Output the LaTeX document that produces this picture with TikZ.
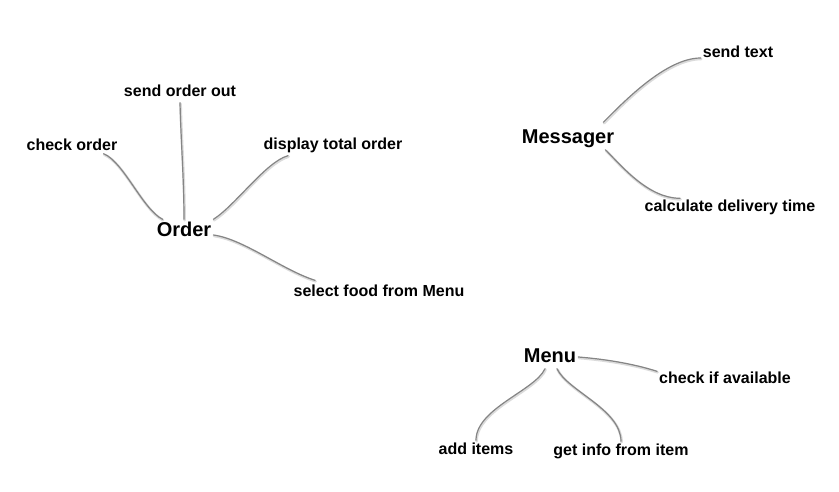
\documentclass[tikz,border=0pt]{standalone}
\usepackage{fontspec}
\setmainfont{Liberation Sans}
\usepackage{tikz}

\begin{document}
\begin{tikzpicture}[x  = {(1pt,0pt)},
                    y  = {(0pt,-1pt)},
                    scale = 1]

  \useasboundingbox (0,0) rectangle (839,492);

  % STYLES
  \definecolor{linkcolor_map}{rgb}{ 0.52,0.52,0.52 }
  \definecolor{shadowcolor_map}{rgb}{ 0.86,0.86,0.86 }
  \tikzstyle{centerstyle_map} = [font=\fontsize{20}{24}\selectfont\bfseries, inner sep=2pt, text height=15pt, text depth=4pt]
  \tikzstyle{labelstyle_map} = [font=\fontsize{16}{19}\selectfont\bfseries, inner sep=2pt, text height=11.5pt, text depth=3.5pt]
  \tikzstyle{linkstyle_map} = [draw=linkcolor_map, line width=1.2pt, line cap=round, preaction={draw=shadowcolor_map, line width=2.6pt, line cap=round, transform canvas={xshift=0.6pt, yshift=-1pt}}]


  % ORDER
  \node[centerstyle_map] (c_order) at (184, 231) {Order};
  \node[labelstyle_map] (t0_order) at (72, 147) {check order};
  \node[labelstyle_map] (t1_order) at (180, 93) {send order out};
  \node[labelstyle_map] (t2_order) at (333, 146) {display total order};
  \node[labelstyle_map] (t3_order) at (379, 293) {select food from Menu};

  \draw[linkstyle_map] ([xshift=-16pt, yshift=3pt]t0_order.south east) .. controls +(20, 8) and +(-20, -10) .. ([xshift=8pt]c_order.north west);
  \draw[linkstyle_map] (t1_order.south) .. controls +(1, 40) and +(0, -40) .. (c_order.north);
  \draw[linkstyle_map] ([xshift=-45pt]t2_order.south) .. controls +(-22, 6) and +(22, -14) .. (c_order.north east);
  \draw[linkstyle_map] ([yshift=-4pt]c_order.east) .. controls +(30, 4) and +(-32, -10) .. ([xshift=-64pt, yshift=3pt]t3_order.north);


  % MESSAGER
  \node[centerstyle_map] (c_msg) at (568, 138) {Messager};
  \node[labelstyle_map] (t0_msg) at (738, 54) {send text};
  \node[labelstyle_map] (t1_msg) at (730, 208) {calculate delivery time};

  \draw[linkstyle_map] ([xshift=-13pt, yshift=4pt]c_msg.north east) .. controls +(20, -20) and +(-35, 0) .. ([yshift=-4pt]t0_msg.west);
  \draw[linkstyle_map] ([xshift=-11pt]c_msg.south east) .. controls +(16, 16) and +(-32, 0) .. ([xshift=-50pt]t1_msg.north);


  % MENU
  \node[centerstyle_map] (c_menu) at (550, 357) {Menu};
  \node[labelstyle_map] (t0_menu) at (725, 379) {check if available};
  \node[labelstyle_map] (t1_menu) at (476, 450) {add items};
  \node[labelstyle_map] (t2_menu) at (621, 451) {get info from item};

  \draw[linkstyle_map] (c_menu.east) .. controls +(25, 2) and +(-25, -8) .. ([yshift=-2pt]t0_menu.north west);
  \draw[linkstyle_map] ([xshift=-5pt]c_menu.south) .. controls +(-10, 22) and +(0, -32) .. (t1_menu.north);
  \draw[linkstyle_map] ([xshift=7pt]c_menu.south) .. controls +(10, 22) and +(0, -32) .. (t2_menu.north);

\end{tikzpicture}
\end{document}
